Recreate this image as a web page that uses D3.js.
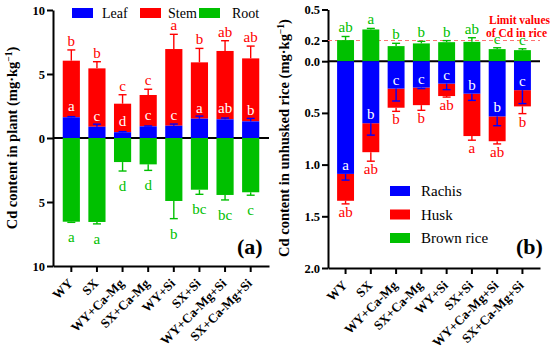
<!DOCTYPE html>
<html lang="en">
<head>
<meta charset="UTF-8">
<title>Cd content in plant and unhusked rice</title>
<script src="https://d3js.org/d3.v7.min.js"></script>
<style>
  body { margin: 0; background: #fff; }
  svg, svg text { font-family: "Liberation Serif", "Times New Roman", serif; }
  .axis text { font-size: 12.5px; font-weight: bold; fill: #000; }
  .axis path, .axis line { stroke: #000; stroke-width: 2; }
  .axis text.xlab { font-size: 13px; }
  .letter { font-size: 15px; text-anchor: middle; }
</style>
</head>
<body>
<div id="chart"></div>
<script>
// treatments (same for both panels)
const groups = ["WY", "SX", "WY+Ca-Mg", "SX+Ca-Mg", "WY+Si", "SX+Si", "WY+Ca-Mg+Si", "SX+Ca-Mg+Si"];

// panel (a): plant, mg/kg
const leaf     = [1.62, 0.88, 0.45, 0.91, 0.96, 1.51, 1.46, 1.30];
const leafErr  = [0.05, 0.20, 0.05, 0.03, 0.13, 0.20, 0.10, 0.23];
const stem     = [4.42, 4.56, 2.23, 2.45, 5.99, 4.40, 5.34, 4.92];
const stemErr  = [0.84, 0.52, 0.70, 0.45, 1.15, 1.09, 0.80, 0.96];
const root     = [6.54, 6.56, 1.88, 2.06, 4.92, 4.04, 4.45, 4.24];
const rootErr  = [0.05, 0.15, 0.70, 0.47, 1.38, 0.36, 0.39, 0.23];
const leafLetters = ["a", "c", "d", "c", "c", "a", "ab", "b"];
const stemLetters = ["b", "b", "c", "c", "a", "b", "ab", "ab"];
const rootLetters = ["a", "a", "d", "d", "b", "bc", "bc", "c"];
const ticksA = [10, 5, 0, -5, -10];

// panel (b): unhusked rice, mg/kg
const brown     = [0.204, 0.307, 0.146, 0.172, 0.184, 0.187, 0.117, 0.107];
const brownErr  = [0.035, 0.010, 0.027, 0.020, 0.015, 0.040, 0.013, 0.013];
const rachis    = [1.09, 0.60, 0.265, 0.255, 0.217, 0.314, 0.534, 0.28];
const rachisErr = [0.06, 0.115, 0.12, 0.01, 0.058, 0.065, 0.09, 0.13];
const husk      = [0.26, 0.28, 0.185, 0.17, 0.12, 0.41, 0.24, 0.157];
const huskErr   = [0.03, 0.087, 0.035, 0.05, 0.01, 0.04, 0.026, 0.07];
const brownLetters  = ["ab", "a", "b", "b", "b", "ab", "c", "c"];
const rachisLetters = ["a", "b", "c", "c", "c", "b", "b", "c"];
const huskLetters   = ["ab", "ab", "b", "b", "ab", "a", "ab", "b"];
const ticksB = [0.5, 0.2, 0.0, -0.5, -1.0, -1.5, -2.0];
const limitValue = 0.2;

const BLUE = "#0000ff", RED = "#ff0000", GREEN = "#00c000";
const SERIF = "'Liberation Serif', 'Times New Roman', serif";

const svg = d3.select("#chart").append("svg")
    .attr("width", 550)
    .attr("height", 354)
    .attr("font-family", SERIF);

// common axes + zero line for one panel
function drawFrame(x, y, ticks, fmt) {
    const x0 = x.range()[0], x1 = x.range()[1];

    svg.append("g")
        .attr("class", "axis")
        .attr("transform", "translate(" + x0 + ",0)")
        .call(d3.axisLeft(y).tickValues(ticks).tickFormat(fmt).tickSize(6).tickSizeOuter(0).tickPadding(2))
        .attr("font-family", SERIF);

    const xa = svg.append("g")
        .attr("class", "axis")
        .attr("transform", "translate(0," + y.range()[0] + ")")
        .call(d3.axisBottom(x).tickSize(6).tickSizeOuter(0))
        .attr("font-family", SERIF);
    xa.selectAll("text")
        .attr("class", "xlab")
        .attr("x", 0).attr("y", 0)
        .attr("text-anchor", "end")
        .attr("dy", "0.35em")
        .attr("transform", "translate(-1,15) rotate(-45)");

    svg.append("line")
        .attr("x1", x0).attr("x2", x1)
        .attr("y1", y(0)).attr("y2", y(0))
        .attr("stroke", "#000").attr("stroke-width", 2);

    return svg.append("text")
        .attr("text-anchor", "middle")
        .attr("font-size", 14.5)
        .attr("font-weight", "bold");
}

function errBar(cx, yFrom, yTo, color) {
    svg.append("line")
        .attr("x1", cx).attr("x2", cx).attr("y1", yFrom).attr("y2", yTo)
        .attr("stroke", color).attr("stroke-width", 1.4);
    svg.append("line")
        .attr("x1", cx - 4).attr("x2", cx + 4).attr("y1", yTo).attr("y2", yTo)
        .attr("stroke", color).attr("stroke-width", 1.4);
}

function letter(cx, yy, txt, color) {
    svg.append("text").attr("class", "letter")
        .attr("x", cx).attr("y", yy).attr("fill", color).text(txt);
}

// ---------- panel (a) ----------
const xA = d3.scaleBand().domain(groups).range([53, 269]).paddingInner(0.33).paddingOuter(0.38);
const yA = d3.scaleLinear().domain([-10, 10]).range([266, 10]);
const bwA = xA.bandwidth();

const titleA = drawFrame(xA, yA, ticksA, d => Math.abs(d));
titleA.attr("transform", "translate(17," + yA(0) + ") rotate(-90)");
titleA.text("Cd content in plant (mg·kg").append("tspan").attr("dy", -5).attr("font-size", 9.5).text("−1");
titleA.append("tspan").attr("dy", 5).text(")");

groups.forEach((g, i) => {
    const cx = xA(g) + bwA / 2;
    const top = leaf[i] + stem[i];
    // root (downwards)
    svg.append("rect").attr("x", xA(g)).attr("width", bwA)
        .attr("y", yA(0)).attr("height", yA(-root[i]) - yA(0)).attr("fill", GREEN);
    // stem on top of leaf
    svg.append("rect").attr("x", xA(g)).attr("width", bwA)
        .attr("y", yA(top)).attr("height", yA(leaf[i]) - yA(top)).attr("fill", RED);
    svg.append("rect").attr("x", xA(g)).attr("width", bwA)
        .attr("y", yA(leaf[i])).attr("height", yA(0) - yA(leaf[i])).attr("fill", BLUE);

    errBar(cx, yA(top), yA(top + stemErr[i]), RED);
    errBar(cx, yA(leaf[i]), yA(leaf[i] + leafErr[i]), BLUE);
    errBar(cx, yA(-root[i]), yA(-root[i] - rootErr[i]), GREEN);

    letter(cx, yA(top + stemErr[i]) - 4, stemLetters[i], RED);
    letter(cx, yA(leaf[i]) - 6, leafLetters[i], "#fff");
    letter(cx, yA(-root[i] - rootErr[i]) + 20, rootLetters[i], GREEN);
});

// legend (a)
const legA = [["Leaf", BLUE, 72, 102], ["Stem", RED, 140, 168], ["Root", GREEN, 199, 232]];
legA.forEach(d => {
    svg.append("rect").attr("x", d[2]).attr("y", 8).attr("width", 21).attr("height", 10).attr("fill", d[1]);
    svg.append("text").attr("x", d[3]).attr("y", 18).attr("font-size", 14).text(d[0]);
});
svg.append("text").attr("x", 237).attr("y", 254).attr("font-size", 22).attr("font-weight", "bold").text("(a)");

// ---------- panel (b) ----------
const xB = d3.scaleBand().domain(groups).range([328, 540]).paddingInner(0.33).paddingOuter(0.36);
const yB = d3.scaleLinear().domain([-2, 0.5]).range([268, 9.5]);
const bwB = xB.bandwidth();

const titleB = drawFrame(xB, yB, ticksB, d => Math.abs(d).toFixed(1));
titleB.attr("transform", "translate(289," + yA(0) + ") rotate(-90)");
titleB.text("Cd content in unhusked rice (mg·kg").append("tspan").attr("dy", -5).attr("font-size", 9.5).text("−1");
titleB.append("tspan").attr("dy", 5).text(")");
svg.selectAll(".axis text").filter(d => d === limitValue).attr("fill", RED);

// limit line
svg.append("line")
    .attr("x1", xB.range()[0]).attr("x2", xB.range()[1])
    .attr("y1", yB(limitValue)).attr("y2", yB(limitValue))
    .attr("stroke", "#ff7070").attr("stroke-width", 1).attr("stroke-dasharray", "4,3");

groups.forEach((g, i) => {
    const cx = xB(g) + bwB / 2;
    const total = rachis[i] + husk[i];
    svg.append("rect").attr("x", xB(g)).attr("width", bwB)
        .attr("y", yB(brown[i])).attr("height", yB(0) - yB(brown[i])).attr("fill", GREEN);
    svg.append("rect").attr("x", xB(g)).attr("width", bwB)
        .attr("y", yB(-rachis[i])).attr("height", yB(-total) - yB(-rachis[i])).attr("fill", RED);
    svg.append("rect").attr("x", xB(g)).attr("width", bwB)
        .attr("y", yB(0)).attr("height", yB(-rachis[i]) - yB(0)).attr("fill", BLUE);

    errBar(cx, yB(brown[i]), yB(brown[i] + brownErr[i]), GREEN);
    errBar(cx, yB(-rachis[i]), yB(-rachis[i] - rachisErr[i]), BLUE);
    errBar(cx, yB(-total), yB(-total - huskErr[i]), RED);

    letter(cx, yB(brown[i] + brownErr[i]) - 4, brownLetters[i], GREEN);
    letter(cx, yB(-rachis[i]) - 4, rachisLetters[i], "#fff");
    letter(cx, yB(-total - huskErr[i]) + 13, huskLetters[i], RED);
});

svg.append("text").attr("x", 489).attr("y", 24).attr("fill", RED)
    .attr("font-size", 11.5).attr("font-weight", "bold").text("Limit values");
svg.append("text").attr("x", 486).attr("y", 37).attr("fill", RED)
    .attr("font-size", 11.5).attr("font-weight", "bold").text("of Cd in rice");

// legend (b)
const legB = [["Rachis", BLUE], ["Husk", RED], ["Brown rice", GREEN]];
legB.forEach((d, i) => {
    svg.append("rect").attr("x", 390).attr("y", 186 + i * 23.5).attr("width", 20).attr("height", 10).attr("fill", d[1]);
    svg.append("text").attr("x", 421).attr("y", 196 + i * 23.5).attr("font-size", 15).text(d[0]);
});
svg.append("text").attr("x", 516).attr("y", 254).attr("font-size", 22).attr("font-weight", "bold").text("(b)");
</script>
</body>
</html>
